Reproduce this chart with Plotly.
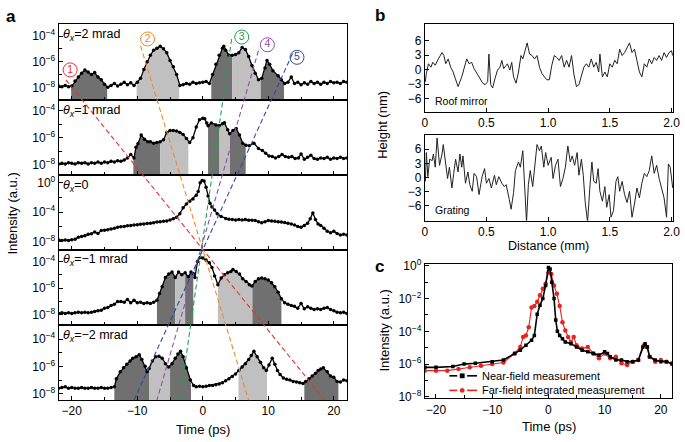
import numpy as np
import plotly.graph_objects as go

W, H = 685, 442
FONT = "Liberation Sans, Arial, sans-serif"

# ---------------- Panel a data (time in ps, log10 intensity) ----------------
a1_t = [-22, -21.5, -21, -20.5, -20, -19.5, -19, -18.5, -18, -17.5, -17, -16.5, -16, -15.5, -15, -14.5,
        -14, -13.5, -13, -12.5, -12, -11.5, -11, -10.5, -10, -9.5, -9, -8.5, -8, -7.5, -7, -6.5, -6,
        -5.5, -5, -4.5, -4, -3.5, -3, -2.5, -2, -1.5, -1, -0.5, 0, 0.5, 1, 1.5, 2, 2.5, 3, 3.2, 3.5,
        4, 4.5, 5, 5.5, 6, 6.5, 7, 7.5, 8, 8.5, 9, 9.5, 9.8, 10.2, 10.7, 11.5, 12, 12.5, 13, 13.5,
        14, 14.5, 15, 15.5, 16, 16.5, 17, 17.5, 18, 18.5, 19, 19.5, 20, 20.5, 21, 21.5, 22]
a1_log = [-7.9, -7.95, -7.85, -7.95, -7.9, -7.5, -7.2, -6.9, -6.65, -6.8, -7.0, -6.85, -7.2, -7.4, -7.75, -8.0,
          -7.85, -7.7, -7.9, -7.75, -7.6, -7.8, -7.65, -7.85, -7.6, -7.3, -6.6, -6.0, -5.5, -5.1, -4.95, -4.8, -5.0,
          -5.3, -5.9, -6.4, -7.0, -7.85, -7.8, -7.7, -7.75, -7.6, -7.7, -7.65, -7.6, -7.55, -7.7, -7.0, -6.2, -5.5, -4.95, -4.8, -5.1,
          -5.5, -5.5, -5.45, -5.3, -4.9, -5.05, -5.6, -6.3, -6.9, -7.4, -7.3, -6.5, -5.9, -6.2, -6.7, -7.1, -7.4, -7.7, -7.6, -7.2,
          -7.7, -7.6, -7.8, -7.65, -7.75, -7.55, -7.7, -7.6, -7.75, -7.6, -7.7, -7.55, -7.65, -7.6, -7.7, -7.55, -7.6]
a1_dark = [[-20.1, -14.6], [1.3, 4.5], [8.8, 12.4]]
a1_light = [[-10.1, -3.6], [4.5, 8.8]]

a2_t = [-22, -21.5, -21, -20.5, -20, -19.5, -19, -18.5, -18, -17.5, -17, -16.5, -16, -15.5, -15, -14.5,
        -14, -13.5, -13, -12.5, -12, -11.5, -11, -10.5, -10.2, -9.9, -9.4, -8.9, -8.4, -8, -7.5, -7, -6.5,
        -6, -5.5, -5, -4.5, -4, -3.5, -3, -2.5, -2, -1.5, -1, -0.5, 0, 0.3, 0.6, 0.8, 1.3, 2, 2.5, 3,
        3.3, 3.8, 4.1, 4.6, 5.1, 5.6, 6.1, 6.6, 7.1, 7.8, 8.5, 9.1, 9.6, 10.1, 10.6, 11.1, 11.6, 12.1,
        12.6, 13.1, 13.6, 14.1, 14.6, 15, 15.5, 16, 16.5, 17, 17.5, 18, 18.5, 19, 19.5, 20, 20.5, 21, 21.5, 22]
a2_log = [-7.95, -7.9, -7.95, -7.85, -7.9, -7.95, -7.85, -7.9, -7.85, -7.95, -7.85, -7.9, -7.8, -7.9, -7.8, -7.85,
          -7.75, -7.8, -7.7, -7.75, -7.65, -7.5, -7.25, -7.5, -6.7, -6.45, -5.8, -6.1, -6.3, -6.3, -6.4, -6.35, -6.3,
          -6.15, -5.6, -5.45, -5.45, -5.5, -5.6, -5.75, -6.05, -6.35, -6.0, -5.2, -4.65, -4.55, -4.58, -4.9, -5.1, -4.9, -5.05, -5.1, -4.95,
          -4.88, -5.4, -5.7, -5.45, -5.3, -5.8, -6.4, -6.55, -6.6, -6.4, -6.8, -6.95, -7.15, -7.35, -7.4, -7.5, -7.4, -7.25,
          -7.4, -7.45, -7.4, -7.55, -7.5, -7.2, -7.6, -7.45, -7.3, -7.55, -7.6, -7.5, -7.55, -7.45, -7.6, -7.5, -7.55, -7.45, -7.55, -7.5]
a2_dark = [[-10.6, -6.5], [0.8, 2.55], [4.15, 6.55]]
a2_light = [[-6.5, -2.2], [2.55, 4.15]]

a3_t = [-22, -21.5, -21, -20.5, -20, -19.5, -19, -18.5, -18, -17.5, -17, -16.5, -16, -15.5, -15, -14.5,
        -14, -13.5, -13, -12.5, -12, -11.5, -11, -10.5, -10, -9.5, -9, -8.5, -8, -7.5, -7, -6.5, -6,
        -5.5, -5, -4.5, -4, -3.5, -3, -2.5, -2, -1.5, -1, -0.7, -0.4, -0.1, 0.2, 0.5, 0.8, 1.1, 1.4,
        1.8, 2.2, 2.8, 3.5, 4, 4.5, 5, 5.5, 6, 6.5, 7, 7.5, 8, 8.5, 9, 9.5, 10, 10.5, 11, 11.5, 12,
        12.5, 13, 13.5, 14, 14.5, 15, 15.5, 16, 16.4, 16.8, 17.2, 17.6, 18, 18.5, 19, 19.5, 20, 20.5, 21, 21.5, 22]
a3_log = [-7.8, -7.85, -7.8, -7.85, -7.75, -7.7, -7.4, -7.3, -7.2, -7.0, -6.95, -6.7, -6.9, -6.5, -6.45, -6.4,
          -6.3, -6.2, -6.05, -6.0, -5.95, -5.85, -5.8, -5.75, -5.7, -5.65, -5.6, -5.55, -5.5, -5.45, -5.35, -5.3, -5.25,
          -5.2, -5.05, -4.9, -4.7, -4.2, -3.4, -2.9, -2.5, -2.2, -1.7, -1.2, 0.0, 0.3, 0.25, -0.6, -1.8, -2.8, -3.3,
          -3.7, -4.2, -4.6, -4.85, -4.95, -5.0, -5.05, -5.0, -5.05, -5.0, -5.1, -5.1, -5.15, -5.3, -5.45, -5.3, -5.15, -5.2, -5.25, -5.3, -5.35,
          -5.4, -5.5, -5.6, -5.75, -5.95, -6.05, -5.8, -5.5, -4.9, -4.1, -5.0, -5.6, -5.8, -6.2, -6.6, -6.8, -6.6, -6.9, -7.1, -7.0, -7.1]

a4_t = [-22, -21.5, -21, -20.5, -20, -19.5, -19, -18.5, -18, -17.5, -17, -16.5, -16, -15.5, -15, -14.5,
        -14, -13.5, -13, -12.5, -12, -11.5, -11, -10.5, -10, -9.5, -9, -8.5, -8, -7.5, -7, -6.6, -6.2,
        -5.7, -5.2, -4.7, -4.2, -3.7, -3.2, -2.7, -2.2, -1.8, -1.45, -1.2, -0.8, -0.4, 0, 0.5, 1, 1.4,
        1.8, 2.3, 2.8, 3.3, 3.8, 4.3, 4.6, 5.1, 5.6, 6.1, 6.6, 7.1, 7.5, 8, 8.5, 9, 9.5, 10, 10.5, 11,
        11.5, 12, 12.5, 13, 13.5, 14, 14.5, 15, 15.5, 16, 16.5, 17, 17.5, 18, 18.5, 19, 19.5, 20, 20.5, 21, 21.5, 22]
a4_log = [-7.9, -7.85, -7.9, -7.85, -7.9, -7.85, -7.8, -7.85, -7.8, -7.85, -7.8, -7.75, -7.7, -7.65, -7.5, -7.45,
          -7.3, -7.2, -7.0, -7.0, -7.05, -6.85, -7.1, -6.9, -7.1, -7.05, -7.15, -7.1, -7.15, -7.05, -6.9, -6.4, -5.9,
          -5.2, -4.95, -4.8, -5.2, -4.8, -5.0, -4.85, -5.15, -4.8, -4.9, -5.2, -4.0, -3.7, -3.75, -3.9, -4.1, -4.45,
          -5.1, -5.75, -5.25, -5.0, -4.85, -4.75, -4.6, -4.75, -4.95, -5.3, -5.5, -5.75, -5.85, -5.5, -5.3, -5.25, -5.3, -5.4, -5.6, -5.9,
          -6.3, -6.8, -7.1, -7.2, -7.3, -7.35, -7.5, -7.15, -7.55, -7.4, -7.5, -7.6, -7.55, -7.6, -7.5, -7.45, -7.6, -7.7, -7.8, -7.85, -7.8, -7.9]
a4_dark = [[-7.0, -4.2], [-2.7, -1.45], [7.55, 12.0]]
a4_light = [[-4.2, -2.7], [2.3, 7.55]]

a5_t = [-22, -21.5, -21, -20.5, -20, -19.5, -19, -18.5, -18, -17.5, -17, -16.5, -16, -15.5, -15, -14.5,
        -14, -13.5, -13.2, -12.6, -12.1, -11.6, -11.1, -10.7, -10.2, -9.7, -9.3, -8.8, -8.5, -8.2, -7.7,
        -7.2, -6.7, -6.2, -5.7, -5.2, -4.7, -4.2, -3.8, -3.4, -3, -2.5, -1.9, -1.4, -1, -0.5, 0, 0.5, 1,
        1.5, 2, 2.5, 3, 3.5, 4, 4.5, 5, 5.5, 6, 6.5, 7, 7.4, 7.8, 8.3, 8.8, 9.3, 9.7, 10.1, 10.6, 11,
        11.4, 11.8, 12.3, 12.8, 13.3, 13.8, 14.3, 14.8, 15.3, 15.7, 16.2, 16.7, 17.2, 17.6, 18, 18.4,
        19, 19.5, 20, 20.5, 21, 21.5, 22]
a5_log = [-7.6, -7.55, -7.5, -7.6, -7.55, -7.6, -7.6, -7.55, -7.6, -7.6, -7.55, -7.6, -7.6, -7.55, -7.6, -7.6,
          -7.55, -7.5, -6.9, -6.4, -6.1, -5.85, -5.6, -5.4, -5.3, -5.15, -5.5, -6.0, -6.4, -6.15, -5.6,
          -5.3, -5.25, -5.4, -5.8, -6.05, -5.8, -5.4, -5.1, -4.9, -5.3, -6.1, -7.0, -7.4, -7.5, -7.45, -7.5, -7.45, -7.4,
          -7.4, -7.35, -7.3, -7.2, -7.05, -6.9, -6.75, -6.55, -6.3, -6.05, -5.8, -5.5, -5.2, -4.9, -5.3, -5.7, -6.1, -6.3, -5.9, -5.4, -5.85,
          -6.3, -6.6, -6.85, -6.95, -7.0, -7.1, -7.15, -7.2, -7.25, -7.1, -6.9, -6.7, -6.5, -6.3, -6.2, -6.1,
          -6.4, -6.7, -6.8, -7.1, -7.15, -7.0, -7.05]
a5_dark = [[-13.5, -8.2], [-5.0, -1.8], [15.5, 20.7]]
a5_light = [[-8.2, -5.0], [5.45, 9.8]]

a_labels = ["2 mrad", "1 mrad", "0", "\u22121 mrad", "\u22122 mrad"]

# guide lines (time at top/bottom end, pixel row of the end)
guide_colors = ["#e8322f", "#f08a2b", "#22a24c", "#8e4ea8", "#2c4b9e"]
guide_t_top = [-20.9, -9.5, 4.4, 8.5, 13.7]
guide_py_top = [75, 40, 33, 45, 48]
guide_t_bot = [18.6, 7.0, -3.5, -7.0, -10.5]
guide_py_bot = [405, 405, 405, 405, 405]
circle_t = [-20.25, -8.43, 5.95, 9.86, 14.38]
circle_log = [-6.64, -4.23, -4.08, -4.68, -5.66]
circle_txt = ["1", "2", "3", "4", "5"]

# ---------------- Panel b data (distance mm, height nm) ----------------
roof_x = [0.005, 0.013, 0.03, 0.05, 0.065, 0.085, 0.11, 0.14, 0.155, 0.17, 0.19, 0.21, 0.23, 0.25, 0.27,
          0.30, 0.32, 0.34, 0.36, 0.38, 0.40, 0.42, 0.44, 0.47, 0.49, 0.51, 0.52, 0.535, 0.55, 0.57, 0.59,
          0.61, 0.625, 0.64, 0.67, 0.69, 0.705, 0.72, 0.74, 0.76, 0.78, 0.795, 0.81, 0.83, 0.85, 0.87, 0.89,
          0.91, 0.93, 0.95, 0.97, 0.99, 1.01, 1.03, 1.05, 1.07, 1.09, 1.11, 1.13, 1.15, 1.17, 1.19, 1.21,
          1.23, 1.25, 1.27, 1.29, 1.31, 1.33, 1.35, 1.37, 1.39, 1.41, 1.42, 1.44, 1.46, 1.48, 1.50, 1.52,
          1.54, 1.56, 1.58, 1.60, 1.62, 1.64, 1.66, 1.68, 1.70, 1.72, 1.74, 1.76, 1.78, 1.80, 1.82, 1.84,
          1.86, 1.88, 1.90, 1.92, 1.94, 1.96, 1.98, 2.0, 2.01]
roof_h = [-2.5, -0.8, 1.2, 0.5, 1.5, 0.9, 2.2, 3.5, 2.9, 1.2, 2.2, 0.5, -0.5, -1.8, -3.5,
          -1.5, 0.5, 2.2, 1.2, 1.5, 0.2, -0.8, -1.5, -2.8, -3.1, -2.5, 3.2, -3.1, -3.8, -1.8, -0.1,
          0.5, 1.9, 0.2, 1.2, -0.1, 1.5, -1.5, -2.8, -0.5, 2.9, 2.2, 3.5, 5.5, 3.2, 2.9, 2.2,
          2.9, 0.5, -0.8, -1.5, -2.1, -2.1, 0.9, 2.9, 2.5, 1.9, 2.9, 0.5, 1.9, 0.5, 2.9, -1.1,
          -3.5, -3.1, -1.5, 0.5, 1.2, 0.5, 2.2, 0.5, 1.5, -0.5, 3.2, -1.5, -0.5, -1.5, 1.2, 0.5,
          1.9, 1.2, 4.2, 2.9, 3.5, 4.5, 5.5, 3.5, 4.2, 1.9, -0.5, -1.5, 1.2, 0.5, 2.2, 1.2,
          2.5, 1.9, 2.9, 1.9, 3.5, 2.5, 3.5, 3.9, 2.9]
grat_x = [0.005, 0.013, 0.025, 0.04, 0.06, 0.07, 0.085, 0.10, 0.12, 0.14, 0.15, 0.165, 0.185, 0.20, 0.22,
          0.235, 0.25, 0.27, 0.285, 0.30, 0.31, 0.33, 0.35, 0.365, 0.385, 0.40, 0.42, 0.44, 0.465, 0.485,
          0.50, 0.52, 0.54, 0.565, 0.58, 0.60, 0.625, 0.645, 0.66, 0.685, 0.70, 0.72, 0.735, 0.76, 0.775,
          0.795, 0.81, 0.825, 0.84, 0.855, 0.875, 0.89, 0.91, 0.93, 0.945, 0.965, 0.98, 1.00, 1.025, 1.04,
          1.06, 1.08, 1.10, 1.12, 1.14, 1.16, 1.18, 1.195, 1.215, 1.235, 1.25, 1.27, 1.285, 1.30, 1.32,
          1.34, 1.355, 1.37, 1.39, 1.405, 1.42, 1.44, 1.46, 1.475, 1.495, 1.51, 1.53, 1.55, 1.565, 1.58,
          1.60, 1.62, 1.64, 1.66, 1.68, 1.70, 1.72, 1.74, 1.76, 1.78, 1.80, 1.82, 1.84, 1.86, 1.88, 1.90,
          1.92, 1.94, 1.96, 1.975, 1.99, 2.01]
grat_h = [-0.8, 5.3, 0.2, 3.9, 3.6, 5.0, 2.2, 8.4, 2.6, 5.0, 7.0, 3.3, -0.2, 2.2, -2.2,
          0.9, 3.9, 1.2, 5.0, 2.2, 4.6, -1.2, 1.2, -1.5, -2.9, 0.9, 0.2, -3.6, 0.2, 1.9,
          -1.2, -0.2, -2.2, 0.5, -1.5, 0.2, -1.2, -1.9, -1.5, -4.6, -6.7, -3.2, 1.5, 3.3, 2.2,
          5.7, -1.2, -9.5, -1.5, 1.5, -1.9, 2.6, 7.0, 5.7, 6.7, 2.2, 5.3, 2.6, 4.3, -0.2,
          2.6, 3.9, -1.9, -0.2, 2.2, 6.7, 3.3, 4.6, 2.6, 5.3, 0.5, 3.9, 0.5, -5.0, -9.5,
          -1.5, 3.3, -0.8, -1.2, 1.9, -2.9, -5.0, -1.9, -6.3, -3.6, -8.4, -7.0, -0.8, 0.2, -2.9,
          -0.8, -3.6, -5.3, -2.9, -8.4, -5.6, -2.2, -4.3, -1.2, 0.9, 0.2, 1.5, 4.6, 0.9, 2.6, -0.2,
          -2.2, -4.3, -8.4, 2.9, 2.2, -2.2]

# ---------------- Panel c data (time ps, log10 intensity) ----------------
near_t = [-22, -20, -17, -15, -13, -10, -8, -6, -5, -4, -3, -2.5, -2, -1.5, -1, -0.5, 0, 0.3, 0.6, 1.0,
          1.3, 1.6, 2, 2.5, 3, 4, 5, 6, 7, 8, 9, 10, 10.5, 11, 12, 13, 14, 15, 16, 16.8, 17.2, 17.6, 18,
          19, 20, 21, 22]
near_log = [-6.2, -6.2, -6.15, -6.0, -5.95, -5.85, -5.75, -5.35, -5.15, -4.85, -4.55, -4.25, -2.95, -2.4, -2.0, -1.2, -0.1, -0.2, -1.0, -2.0,
            -3.3, -4.0, -4.25, -4.45, -4.65, -4.75, -4.95, -5.15, -5.25, -5.35, -5.45, -5.25, -5.35, -5.55, -5.75, -5.75, -5.85, -5.85, -5.75, -4.95, -4.75, -4.95, -5.55,
            -5.75, -5.85, -5.85, -6.0]
far_t = [-22, -20, -18, -16, -14, -12, -10, -8, -6, -5, -4.5, -4, -3.5, -3, -2.5, -2, -1.5, -1, -0.5, 0,
         0.5, 1.0, 1.5, 2, 2.5, 3, 3.5, 4, 4.5, 5, 6, 7, 8, 9, 10, 11, 12, 13, 14, 15, 16, 17, 17.5, 18,
         19, 20, 21, 22]
far_log = [-6.4, -6.4, -6.4, -6.3, -6.2, -6.1, -6.0, -5.9, -5.35, -4.95, -4.35, -4.25, -3.75, -2.55, -2.45, -2.2, -1.8, -1.4, -1.1, -0.4,
           -0.5, -1.2, -1.7, -2.45, -3.45, -3.95, -4.35, -4.65, -4.35, -4.85, -5.05, -4.95, -5.35, -5.65, -5.35, -5.65, -5.55, -5.95, -6.05, -5.85, -5.75, -4.85, -4.95, -5.55,
           -5.85, -5.75, -5.85, -5.95]
legend_names = ["Near-field measurement", "Far-field integrated measurement"]
legend_colors = ["black", "#e8231f"]


def px_x(p0, p1):
    return [p0 / W, p1 / W]


def px_y(top, bot):
    return [1 - bot / H, 1 - top / H]


def sup(e):
    return "10<sup>" + ("\u2212" + str(-e) if e < 0 else str(e)) + "</sup>"


fig = go.Figure()
layout = {}
ann = []
shapes = []

base_axis = dict(showline=True, linecolor="black", linewidth=1, mirror=True, ticks="inside",
                 ticklen=4, tickwidth=1, tickcolor="black", showgrid=False, zeroline=False,
                 ticklabeloverflow="allow",
                 tickfont=dict(size=12, color="black", family=FONT))

A_X = (56.5, 349)
A_ROWS = [(18, 96), (96, 173.5), (173.5, 250), (250, 327.5), (327.5, 405)]
A_YR = [(-9, -3.1), (-8.8, -3.2), (-9.1, 1.0), (-8.75, -3.12), (-8.47, -2.96)]
A_MAJ = [[-4, -6, -8], [-4, -6, -8], [0, -4, -8], [-4, -6, -8], [-4, -6, -8]]
A_MIN = [[-5, -7], [-5, -7], [-2, -6], [-5, -7], [-5, -7]]

a_t = [a1_t, a2_t, a3_t, a4_t, a5_t]
a_log = [a1_log, a2_log, a3_log, a4_log, a5_log]
a_dark = [a1_dark, a2_dark, [], a4_dark, a5_dark]
a_light = [a1_light, a2_light, [], a4_light, a5_light]

DARK = "rgb(112,112,112)"
LIGHT = "rgb(192,192,192)"

for i in range(5):
    n = i + 1
    xa, ya = ("x" if n == 1 else f"x{n}"), ("y" if n == 1 else f"y{n}")
    t = np.array(a_t[i], dtype=float)
    lg = np.array(a_log[i], dtype=float)
    for regions, col in ((a_dark[i], DARK), (a_light[i], LIGHT)):
        for t0, t1 in regions:
            inside = (t > t0) & (t < t1)
            xs = [t0] + list(t[inside]) + [t1, t1, t0, t0]
            ys = [np.interp(t0, t, lg)] + list(lg[inside]) + [np.interp(t1, t, lg), -14, -14]
            ys = ys + [ys[0]]
            fig.add_trace(go.Scatter(x=xs, y=[10 ** v for v in ys], mode="lines", fill="toself",
                                     fillcolor=col, line=dict(width=0), xaxis=xa, yaxis=ya,
                                     showlegend=False, hoverinfo="skip"))
    fig.add_trace(go.Scatter(x=t, y=10 ** lg, mode="lines+markers",
                             line=dict(color="black", width=1.3),
                             marker=dict(color="black", size=3.5),
                             xaxis=xa, yaxis=ya, showlegend=False))
    top, bot = A_ROWS[i]
    layout["xaxis" if n == 1 else f"xaxis{n}"] = dict(
        base_axis, domain=px_x(*A_X), range=[-22, 22], anchor=ya,
        tickvals=[-20, -10, 0, 10, 20],
        ticktext=["\u221220", "\u221210", "0", "10", "20"],
        showticklabels=(n == 5),
        minor=dict(tickvals=[-15, -5, 5, 15], ticks="inside", ticklen=3, tickcolor="black"))
    layout["yaxis" if n == 1 else f"yaxis{n}"] = dict(
        base_axis, domain=px_y(top, bot), type="log", range=list(A_YR[i]), anchor=xa,
        tickvals=[10.0 ** e for e in A_MAJ[i]], ticktext=[sup(e) for e in A_MAJ[i]],
        minor=dict(tickvals=[10.0 ** e for e in A_MIN[i]], ticks="inside", ticklen=3, tickcolor="black"))
    ann.append(dict(x=59 / W, y=1 - (top + 11) / H, xref="paper", yref="paper", xanchor="left",
                    yanchor="middle", showarrow=False,
                    text="<i>\u03b8</i><sub><i>x</i></sub>=" + a_labels[i],
                    font=dict(size=12.5, color="black", family=FONT)))

# guide lines
for k in range(5):
    shapes.append(dict(type="line", xref="x", yref="paper",
                       x0=guide_t_top[k], y0=1 - guide_py_top[k] / H,
                       x1=guide_t_bot[k], y1=1 - guide_py_bot[k] / H,
                       line=dict(color=guide_colors[k], width=1.1, dash="5px,3px"), layer="above"))
fig.add_trace(go.Scatter(x=circle_t, y=[10 ** v for v in circle_log], mode="markers+text",
                         text=circle_txt, textposition="middle center",
                         textfont=dict(size=10.5, color=guide_colors, family=FONT),
                         marker=dict(symbol="circle-open", size=14, color=guide_colors,
                                     line=dict(width=1, color=guide_colors)),
                         xaxis="x", yaxis="y", showlegend=False, cliponaxis=False))

# ---------------- Panel b ----------------
B_X = (428, 680)
B_ROWS = [(18, 108), (132, 220)]
B_YR = [(-8.7, 9.3), (-9.1, 9.0)]
for j, (xs, hs, name) in enumerate(((roof_x, roof_h, "Roof mirror"), (grat_x, grat_h, "Grating"))):
    n = 6 + j
    fig.add_trace(go.Scatter(x=xs, y=hs, mode="lines", line=dict(color="#222222", width=1),
                             xaxis=f"x{n}", yaxis=f"y{n}", showlegend=False))
    top, bot = B_ROWS[j]
    layout[f"xaxis{n}"] = dict(base_axis, domain=px_x(*B_X), range=[0, 2.013], anchor=f"y{n}",
                               tickvals=[0, 0.5, 1.0, 1.5, 2.0], ticktext=["0", "0.5", "1.0", "1.5", "2.0"])
    layout[f"yaxis{n}"] = dict(base_axis, domain=px_y(top, bot), range=list(B_YR[j]), anchor=f"x{n}",
                               tickvals=[-6, -3, 0, 3, 6],
                               ticktext=["\u22126", "\u22123", "0", "3", "6"])
    ann.append(dict(x=436 / W, y=1 - (bot - 11) / H, xref="paper", yref="paper", xanchor="left",
                    yanchor="middle", showarrow=False, text=name,
                    font=dict(size=10.5, color="black", family=FONT)))

# ---------------- Panel c ----------------
C_X = (428, 679)
C_Y = (265, 403)
fig.add_trace(go.Scatter(x=far_t, y=[10 ** v for v in far_log], mode="lines+markers",
                         name=legend_names[1],
                         line=dict(color=legend_colors[1], width=1.1),
                         marker=dict(color=legend_colors[1], size=4.5, symbol="circle"),
                         xaxis="x8", yaxis="y8", showlegend=False))
fig.add_trace(go.Scatter(x=near_t, y=[10 ** v for v in near_log], mode="lines+markers",
                         name=legend_names[0],
                         line=dict(color=legend_colors[0], width=1.6),
                         marker=dict(color=legend_colors[0], size=3.5, symbol="square"),
                         xaxis="x8", yaxis="y8", showlegend=False))
layout["xaxis8"] = dict(base_axis, domain=px_x(*C_X), range=[-22, 22], anchor="y8",
                        tickvals=[-20, -10, 0, 10, 20],
                        ticktext=["\u221220", "\u221210", "0", "10", "20"],
                        minor=dict(tickvals=[-15, -5, 5, 15], ticks="inside", ticklen=3, tickcolor="black"))
c_maj = [0, -2, -4, -6, -8]
c_min = [-1, -3, -5, -7]
layout["yaxis8"] = dict(base_axis, domain=px_y(*C_Y), type="log", range=[-8.08, 0.1], anchor="x8",
                        tickvals=[10.0 ** e for e in c_maj], ticktext=[sup(e) for e in c_maj],
                        minor=dict(tickvals=[10.0 ** e for e in c_min], ticks="inside", ticklen=3,
                                   tickcolor="black"))

# manual legend (compact spacing as in the reference)
for k, (name, col) in enumerate(zip(legend_names, legend_colors)):
    ly = 380 + 15 * k
    for xa0, xa1 in ((453, 461), (471, 481)):
        shapes.append(dict(type="line", xref="paper", yref="paper", x0=xa0 / W, x1=xa1 / W,
                           y0=1 - ly / H, y1=1 - ly / H, line=dict(color=col, width=1.6)))
    r = 2.2
    shapes.append(dict(type="rect" if k == 0 else "circle", xref="paper", yref="paper",
                       x0=(466 - r) / W, x1=(466 + r) / W, y0=1 - (ly + r) / H, y1=1 - (ly - r) / H,
                       fillcolor=col, line=dict(color=col, width=0.5)))
    ann.append(dict(x=484 / W, y=1 - ly / H, xref="paper", yref="paper", xanchor="left",
                    yanchor="middle", showarrow=False, text=name,
                    font=dict(size=11, color="black", family=FONT)))

# ---------------- titles & panel letters ----------------
def txt(x, y, s, size=13, angle=0, bold=False, anchor="center"):
    ann.append(dict(x=x / W, y=1 - y / H, xref="paper", yref="paper", xanchor=anchor, yanchor="middle",
                    showarrow=False, textangle=angle, text=("<b>%s</b>" % s) if bold else s,
                    font=dict(size=size, color="black", family=FONT)))

txt(10, 213, "Intensity (a.u.)", angle=-90)
txt(203, 435, "Time (ps)")
txt(385, 121, "Height (nm)", angle=-90)
txt(554, 246, "Distance (mm)", size=12.5)
txt(387, 333, "Intensity (a.u.)", angle=-90)
txt(554, 432, "Time (ps)")
txt(8, 10, "a", size=17, bold=True)
txt(383, 9, "b", size=17, bold=True)
txt(382, 267, "c", size=17, bold=True)

fig.update_layout(
    width=W, height=H, margin=dict(l=0, r=0, t=0, b=0),
    paper_bgcolor="white", plot_bgcolor="white",
    font=dict(family=FONT, size=12, color="black"),
    annotations=ann, shapes=shapes, showlegend=False,
    **layout)

fig.write_html("out.html", default_width="685px", default_height="442px",
               config={"displayModeBar": False, "staticPlot": True},
               post_script="document.body.style.margin='0';document.body.style.padding='0';"
                           "document.body.style.overflow='hidden';")
